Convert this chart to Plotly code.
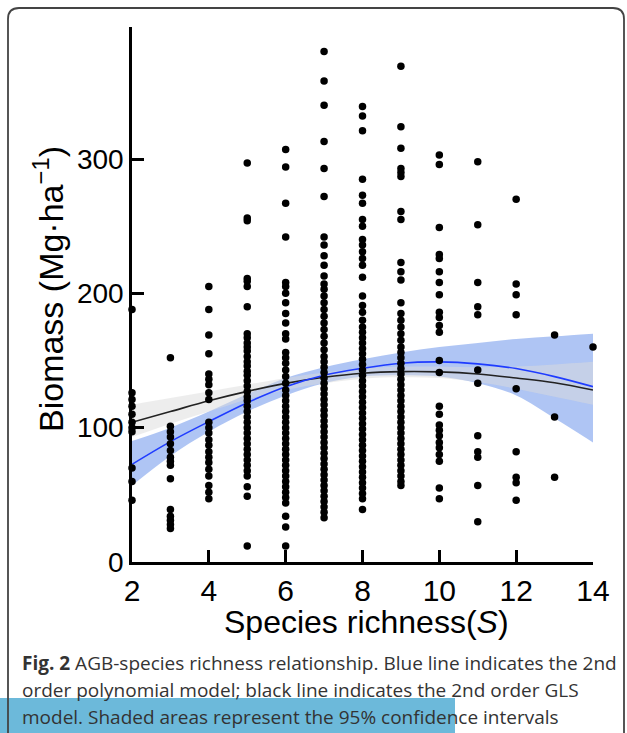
import plotly.graph_objects as go

# ---------------- data ----------------
species_richness = [2, 3, 4, 5, 6, 7, 8, 9, 10, 11, 12, 13, 14]

biomass_s2 = [188, 126, 121, 116, 110, 104, 100, 97, 70, 60, 46]
biomass_s3 = [152, 101, 97, 93, 88, 83, 78, 75, 72, 62, 39, 34, 31, 28, 25]
biomass_s4 = [205, 188, 169, 155, 140, 136, 132, 126, 121, 104, 100, 96, 91, 87, 82,
              78, 74, 69, 64, 57, 52, 47]
biomass_s5 = [297, 256, 254, 211, 209, 205, 190, 170, 167, 163, 160, 157, 153, 149, 146,
              142, 139, 135, 131, 127, 123, 120, 116, 112, 108, 104, 100, 96, 92, 88,
              84, 80, 76, 72, 68, 64, 56, 49, 12]
biomass_s6 = [307, 294, 267, 242, 208, 205, 200, 193, 185, 178, 170, 166, 156, 152, 148,
              143, 138, 133, 128, 124, 120, 116, 112, 108, 104, 100, 96, 92, 88, 84,
              80, 76, 72, 68, 64, 60, 56, 52, 48, 44, 34, 26, 12]
biomass_s7 = [380, 358, 340, 313, 293, 272, 242, 236, 228, 221, 213, 207, 203, 198, 193,
              188, 183, 178, 173, 168, 163, 158, 153, 149, 145, 141, 137, 133, 129, 125,
              121, 117, 113, 109, 105, 101, 97, 93, 89, 85, 81, 77, 73, 69, 65, 61, 57,
              53, 49, 45, 41, 37, 33]
biomass_s8 = [339, 332, 321, 285, 273, 267, 255, 250, 240, 236, 231, 226, 221, 212, 198,
              191, 186, 180, 175, 171, 167, 163, 159, 155, 151, 147, 143, 139, 135, 131,
              127, 123, 119, 115, 111, 107, 103, 99, 95, 91, 87, 83, 79, 75, 71, 67, 63,
              59, 55, 51, 47, 39]
biomass_s9 = [369, 324, 308, 293, 290, 287, 261, 255, 223, 216, 210, 193, 185, 180, 175,
              170, 165, 160, 156, 152, 148, 144, 140, 136, 132, 128, 124, 120, 116, 112,
              108, 104, 100, 96, 92, 88, 84, 80, 76, 72, 68, 64, 60, 57]
biomass_s10 = [303, 296, 249, 229, 226, 216, 208, 199, 186, 182, 176, 171, 150, 141, 116,
               110, 102, 98, 94, 89, 85, 80, 75, 55, 47]
biomass_s11 = [298, 251, 208, 190, 184, 143, 133, 94, 82, 78, 57, 30]
biomass_s12 = [270, 207, 199, 184, 129, 82, 63, 59, 46]
biomass_s13 = [169, 108, 63]
biomass_s14 = [160]

biomass_by_s = [biomass_s2, biomass_s3, biomass_s4, biomass_s5, biomass_s6, biomass_s7,
                biomass_s8, biomass_s9, biomass_s10, biomass_s11, biomass_s12,
                biomass_s13, biomass_s14]

# fitted curves read at integer richness values
fit_x = [2, 3, 4, 5, 6, 7, 8, 9, 10, 11, 12, 13, 14]
poly_fit = [72.7, 89.6, 104.5, 118.6, 130.5, 139.0, 144.2, 148.0, 149.0, 147.5, 144.0, 138.0, 130.5]
poly_upper = [90, 100, 112, 125, 137, 145, 151, 156, 160, 163, 166, 168, 170]
poly_lower = [57, 79, 97, 112, 124, 133, 138, 139, 138, 133, 124, 107, 89]
gls_fit = [104, 112, 120, 127, 133, 137.5, 140.5, 141.7, 141.5, 140, 137, 133.5, 128]
gls_upper = [117, 122, 127, 132, 137, 141, 144, 145.5, 145.5, 145, 145.5, 147, 149]
gls_lower = [93, 103, 112, 121, 128, 133, 136.5, 137.5, 137, 134, 129, 123, 117]

x_ticks = [2, 4, 6, 8, 10, 12, 14]
y_ticks = [0, 100, 200, 300]

caption_lines = [
    "<b>Fig. 2</b> AGB-species richness relationship. Blue line indicates the 2nd",
    "order polynomial model; black line indicates the 2nd order GLS",
    "model. Shaded areas represent the 95% confidence intervals",
]

# ---------------- layout geometry ----------------
W, H = 627, 733
L, R, T, B = 132, 593, 27, 562


def px(xp):
    return (xp - L) / (R - L)


def py(yp):
    return (B - yp) / (B - T)


pts_x, pts_y = [], []
for s, vals in zip(species_richness, biomass_by_s):
    pts_x += [s] * len(vals)
    pts_y += vals

fig = go.Figure()

# polynomial CI band (blue)
fig.add_trace(go.Scatter(x=fit_x, y=poly_lower, mode="lines", line=dict(width=0, shape="spline"),
                         showlegend=False, hoverinfo="skip"))
fig.add_trace(go.Scatter(x=fit_x, y=poly_upper, mode="lines", line=dict(width=0, shape="spline"),
                         fill="tonexty", fillcolor="rgba(110,150,235,0.55)",
                         showlegend=False, hoverinfo="skip"))
# GLS CI band (grey)
fig.add_trace(go.Scatter(x=fit_x, y=gls_lower, mode="lines", line=dict(width=0, shape="spline"),
                         showlegend=False, hoverinfo="skip"))
fig.add_trace(go.Scatter(x=fit_x, y=gls_upper, mode="lines", line=dict(width=0, shape="spline"),
                         fill="tonexty", fillcolor="rgba(220,220,220,0.5)",
                         showlegend=False, hoverinfo="skip"))
# fitted lines
fig.add_trace(go.Scatter(x=fit_x, y=gls_fit, mode="lines",
                         line=dict(color="#222222", width=1.6, shape="spline"), showlegend=False))
fig.add_trace(go.Scatter(x=fit_x, y=poly_fit, mode="lines",
                         line=dict(color="#1f3cff", width=1.6, shape="spline"), showlegend=False))
# observations
fig.add_trace(go.Scatter(x=pts_x, y=pts_y, mode="markers",
                         marker=dict(color="black", size=7.5, line=dict(width=0)),
                         cliponaxis=False, showlegend=False))

axis_font = dict(family="Liberation Sans, Arial, sans-serif", size=30, color="black")

fig.update_xaxes(range=[2, 14], tickvals=x_ticks, ticks="inside", ticklen=12, tickwidth=2.5,
                 tickcolor="black", showline=True, linewidth=2.5, linecolor="black",
                 showgrid=False, zeroline=False, tickfont=axis_font)
fig.update_yaxes(range=[0, (B - T) / 1.3433], tickvals=y_ticks, ticks="inside", ticklen=12,
                 tickwidth=2.5, tickcolor="black", showline=True, linewidth=2.5,
                 linecolor="black", showgrid=False, zeroline=False,
                 tickfont=dict(family="Liberation Sans, Arial, sans-serif", size=28, color="black"))

annotations = [
    dict(text="Biomass (Mg·ha<sup>−1</sup>)", xref="paper", yref="paper", x=px(48), y=py(289),
         xanchor="center", yanchor="middle", textangle=-90, showarrow=False,
         font=dict(family="Liberation Sans, Arial, sans-serif", size=34, color="black")),
    dict(text="Species richness(<i>S</i>)", xref="paper", yref="paper", x=px(366), y=py(622),
         xanchor="center", yanchor="middle", showarrow=False,
         font=dict(family="Liberation Sans, Arial, sans-serif", size=32, color="black")),
]
for i, line in enumerate(caption_lines):
    annotations.append(dict(text=line, xref="paper", yref="paper", x=px(20), y=py(663 + 27 * i),
                            xanchor="left", yanchor="middle", showarrow=False,
                            font=dict(family="Open Sans, sans-serif", size=19, color="#333333")))

# decorative card border and highlight bar
x0, x1, y0, rr = 8, 624, 8, 11
border_path = (f"M {px(x0)},{py(740)} L {px(x0)},{py(y0 + rr)} "
               f"Q {px(x0)},{py(y0)} {px(x0 + rr)},{py(y0)} "
               f"L {px(x1 - rr)},{py(y0)} Q {px(x1)},{py(y0)} {px(x1)},{py(y0 + rr)} "
               f"L {px(x1)},{py(740)}")
shapes = [
    dict(type="rect", xref="paper", yref="paper", x0=px(0), x1=px(455), y0=py(698), y1=py(740),
         fillcolor="#6cb9da", line=dict(width=0), layer="above"),
    dict(type="path", xref="paper", yref="paper", path=border_path,
         line=dict(color="#444444", width=1.8), layer="above"),
]

fig.update_layout(
    width=W, height=H, autosize=False,
    margin=dict(l=L, r=W - R, t=T, b=H - B, pad=0),
    paper_bgcolor="white", plot_bgcolor="white",
    annotations=annotations, shapes=shapes, showlegend=False,
)

fig.write_html("out.html")
